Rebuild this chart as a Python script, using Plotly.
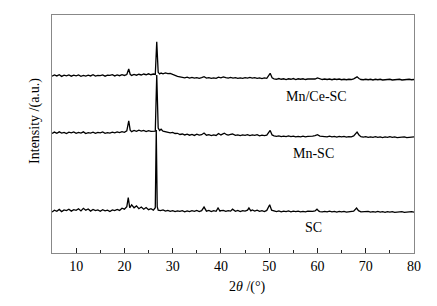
import plotly.graph_objects as go

# ---- data (2θ in degrees, intensity in arbitrary units, curves already offset) ----
sc_x = [5.0, 5.5, 6.0, 6.5, 7.0, 7.5, 8.0, 8.5, 9.0, 9.5, 10.0, 10.5, 11.0, 11.5, 12.0, 12.5, 13.0, 13.5, 14.0, 14.5,
        15.0, 15.5, 16.0, 16.5, 17.0, 17.5, 18.0, 18.5, 19.0, 19.5, 20.0, 20.5, 20.8, 21.1, 21.5, 22.0, 22.5, 23.0, 23.5, 24.0,
        24.5, 25.0, 25.5, 26.0, 26.4, 26.6, 26.8, 27.0, 27.5, 28.0, 28.5, 29.0, 29.5, 30.0, 30.5, 31.0, 31.5, 32.0, 32.5, 33.0,
        33.5, 34.0, 34.5, 35.0, 35.5, 36.0, 36.5, 37.0, 37.5, 38.0, 38.5, 39.0, 39.4, 39.8, 40.0, 40.5, 41.0, 41.5, 42.0, 42.4,
        43.0, 43.5, 44.0, 44.5, 45.0, 45.5, 45.8, 46.2, 46.5, 47.0, 47.5, 48.0, 48.5, 49.0, 49.5, 50.1, 50.5, 51.0, 51.5, 52.0,
        52.5, 53.0, 53.5, 54.0, 54.5, 55.0, 55.5, 56.0, 56.5, 57.0, 57.5, 58.0, 58.5, 59.0, 59.5, 59.9, 60.3, 60.5, 61.0, 61.5,
        62.0, 62.5, 63.0, 63.5, 64.0, 64.5, 65.0, 65.5, 66.0, 66.5, 67.0, 67.5, 68.1, 68.5, 69.0, 69.5, 70.0, 70.5, 71.0, 71.5,
        72.0, 72.5, 73.0, 73.5, 74.0, 74.5, 75.0, 75.5, 76.0, 76.5, 77.0, 77.5, 78.0, 78.5, 79.0, 79.5, 80.0]
sc_y = [17.2, 18.0, 17.5, 18.3, 17.4, 18.1, 17.8, 18.4, 17.6, 18.2, 17.9, 18.6, 17.7, 18.8, 18.0, 18.5, 17.6, 18.3, 17.8, 18.1,
        17.5, 18.2, 17.7, 18.0, 17.4, 18.1, 17.8, 18.3, 17.9, 18.8, 18.4, 19.5, 23.3, 19.0, 20.2, 19.0, 19.8, 18.6, 19.3, 18.4,
        19.1, 18.2, 18.6, 18.0, 19.0, 51.7, 19.5, 18.0, 17.8, 18.1, 17.6, 17.9, 17.5, 17.8, 17.4, 17.7, 17.5, 17.8, 17.3, 17.7,
        17.4, 17.8, 17.5, 17.9, 17.4, 17.8, 19.3, 17.6, 17.9, 17.4, 17.8, 17.5, 18.9, 17.6, 17.8, 17.9, 17.5, 17.8, 17.6, 18.4,
        17.5, 17.9, 17.4, 17.8, 17.6, 18.0, 18.9, 17.7, 18.1, 17.6, 18.0, 17.5, 17.8, 17.4, 17.9, 20.3, 18.0, 17.6, 17.4, 17.7,
        17.3, 17.6, 17.4, 17.7, 17.3, 17.6, 17.4, 17.6, 17.3, 17.5, 17.3, 17.6, 17.4, 17.5, 17.7, 18.4, 17.6, 17.4, 17.3, 17.5,
        17.3, 17.6, 17.3, 17.5, 17.2, 17.5, 17.3, 17.5, 17.2, 17.4, 17.3, 17.6, 18.9, 17.8, 17.3, 17.4, 17.2, 17.5, 17.2, 17.4,
        17.2, 17.5, 17.2, 17.4, 17.1, 17.4, 17.2, 17.4, 17.1, 17.3, 17.2, 17.4, 17.1, 17.3, 17.2, 17.4, 17.2]

mn_x = [5.0, 5.5, 6.0, 6.5, 7.0, 7.5, 8.0, 8.5, 9.0, 9.5, 10.0, 10.5, 11.0, 11.5, 12.0, 12.5, 13.0, 13.5, 14.0, 14.5,
        15.0, 15.5, 16.0, 16.5, 17.0, 17.5, 18.0, 18.5, 19.0, 19.5, 20.0, 20.5, 20.9, 21.2, 21.5, 22.0, 22.5, 23.0, 23.5, 24.0,
        24.5, 25.0, 25.5, 26.0, 26.4, 26.7, 27.0, 27.3, 27.6, 28.0, 28.5, 29.0, 29.5, 30.0, 30.5, 31.0, 31.5, 32.0, 32.5, 33.0,
        33.5, 34.0, 34.5, 35.0, 35.5, 36.0, 36.5, 37.0, 37.5, 38.0, 38.5, 39.0, 39.5, 40.0, 40.7, 41.2, 41.5, 42.0, 42.4, 43.0,
        43.5, 44.0, 44.5, 45.0, 45.5, 46.0, 46.5, 47.0, 47.5, 48.0, 48.5, 49.0, 49.5, 50.2, 50.6, 51.0, 51.5, 52.0, 52.5, 53.0,
        53.5, 54.0, 54.5, 55.0, 55.5, 56.0, 56.5, 57.0, 57.5, 58.0, 58.5, 59.0, 59.5, 60.0, 60.5, 61.0, 61.5, 62.0, 62.5, 63.0,
        63.5, 64.0, 64.5, 65.0, 65.5, 66.0, 66.5, 67.0, 67.5, 68.2, 68.6, 69.0, 69.5, 70.0, 70.5, 71.0, 71.5, 72.0, 72.5, 73.0,
        73.5, 74.0, 74.5, 75.0, 75.5, 76.0, 76.5, 77.0, 77.5, 78.0, 78.5, 79.0, 79.5, 80.0]
mn_y = [50.2, 50.8, 50.3, 50.9, 50.4, 50.7, 50.2, 50.8, 50.5, 50.9, 50.3, 50.7, 50.4, 50.9, 50.2, 50.6, 50.4, 50.8, 50.3, 50.7,
        50.5, 50.9, 50.3, 50.6, 50.4, 50.8, 50.5, 50.9, 50.6, 51.0, 50.7, 51.3, 55.5, 51.6, 51.0, 51.5, 51.1, 51.6, 51.2, 51.5,
        51.0, 51.4, 51.1, 51.3, 51.2, 74.8, 52.5, 51.5, 52.0, 51.2, 51.0, 50.8, 50.5, 50.7, 50.2, 50.3, 49.8, 50.0, 49.6, 49.9,
        49.5, 49.8, 49.4, 49.9, 49.5, 49.7, 50.4, 49.5, 49.7, 49.3, 49.6, 49.4, 50.2, 49.6, 50.3, 49.7, 49.5, 49.8, 50.0, 49.4,
        49.6, 49.3, 49.6, 49.4, 49.7, 49.3, 49.6, 49.4, 49.7, 49.2, 49.5, 49.3, 49.5, 51.5, 49.6, 49.2, 49.0, 49.2, 48.9, 49.1,
        48.9, 49.2, 48.9, 49.1, 48.8, 49.0, 48.8, 49.1, 48.8, 49.0, 48.9, 49.1, 49.3, 49.7, 49.1, 48.9, 49.0, 48.8, 49.1, 48.8,
        49.0, 48.7, 49.0, 48.8, 49.0, 48.7, 48.9, 48.8, 49.2, 50.8, 49.6, 48.9, 48.7, 48.9, 48.6, 48.8, 48.6, 48.9, 48.6, 48.8,
        48.5, 48.8, 48.6, 48.9, 48.6, 48.8, 48.5, 48.7, 48.6, 48.8, 48.5, 48.7, 48.6, 48.8]

mnce_x = [5.0, 5.5, 6.0, 6.5, 7.0, 7.5, 8.0, 8.5, 9.0, 9.5, 10.0, 10.5, 11.0, 11.5, 12.0, 12.5, 13.0, 13.5, 14.0, 14.5,
          15.0, 15.5, 16.0, 16.5, 17.0, 17.5, 18.0, 18.5, 19.0, 19.5, 20.0, 20.5, 20.9, 21.2, 21.5, 22.0, 22.5, 23.0, 23.5, 24.0,
          24.5, 25.0, 25.5, 26.0, 26.4, 26.7, 27.0, 27.3, 27.6, 28.0, 28.5, 29.0, 29.5, 30.0, 30.5, 31.0, 31.5, 32.0, 32.5, 33.0,
          33.5, 34.0, 34.5, 35.0, 35.5, 36.0, 36.5, 37.0, 37.5, 38.0, 38.5, 39.0, 39.5, 40.0, 40.5, 41.0, 41.5, 42.0, 42.5, 43.0,
          43.5, 44.0, 44.5, 45.0, 45.5, 46.0, 46.5, 47.0, 47.5, 48.0, 48.5, 49.0, 49.5, 50.2, 50.6, 51.0, 51.5, 52.0, 52.5, 53.0,
          53.5, 54.0, 54.5, 55.0, 55.5, 56.0, 56.5, 57.0, 57.5, 58.0, 58.5, 59.0, 59.5, 60.0, 60.5, 61.0, 61.5, 62.0, 62.5, 63.0,
          63.5, 64.0, 64.5, 65.0, 65.5, 66.0, 66.5, 67.0, 67.5, 68.2, 68.6, 69.0, 69.5, 70.0, 70.5, 71.0, 71.5, 72.0, 72.5, 73.0,
          73.5, 74.0, 74.5, 75.0, 75.5, 76.0, 76.5, 77.0, 77.5, 78.0, 78.5, 79.0, 79.5, 80.0]
mnce_y = [74.3, 74.8, 74.4, 74.9, 74.2, 74.7, 74.4, 74.8, 74.3, 74.7, 74.4, 74.8, 74.2, 74.6, 74.3, 74.7, 74.4, 74.9, 74.3, 74.6,
          74.5, 74.8, 74.3, 74.7, 74.6, 74.9, 74.4, 74.8, 74.5, 74.9, 74.6, 75.0, 77.3, 75.1, 74.6, 75.0, 74.7, 75.1, 74.8, 75.2,
          74.9, 75.3, 74.9, 75.2, 75.0, 88.7, 75.9, 75.2, 75.6, 75.3, 75.7, 75.4, 75.5, 75.0, 74.6, 74.2, 74.0, 73.8, 73.6, 73.9,
          73.5, 73.8, 73.5, 73.7, 73.4, 73.7, 74.1, 73.5, 73.7, 73.4, 73.6, 73.4, 73.9, 73.6, 74.0, 73.7, 73.5, 73.8, 73.5, 73.7,
          73.4, 73.6, 73.4, 73.7, 73.5, 73.8, 73.5, 73.7, 73.4, 73.6, 73.3, 73.6, 73.4, 75.5, 73.6, 73.2, 73.0, 73.3, 73.0, 73.2,
          72.9, 73.2, 73.0, 73.3, 72.9, 73.2, 73.0, 73.2, 72.9, 73.1, 73.0, 73.2, 73.1, 73.6, 73.1, 72.9, 73.1, 72.9, 73.1, 72.8,
          73.1, 72.9, 73.1, 72.8, 73.0, 72.8, 73.0, 72.9, 73.2, 74.0, 73.3, 72.9, 72.8, 73.0, 72.8, 73.0, 72.7, 73.0, 72.8, 73.0,
          72.7, 72.9, 72.8, 73.0, 72.7, 72.9, 72.8, 73.0, 72.7, 72.9, 72.8, 73.0, 72.8, 72.9]

series_names = ["SC", "Mn-SC", "Mn/Ce-SC"]
label_x = [59.1, 59.1, 59.9]
label_y = [10.6, 41.7, 65.6]
x_ticks = [10, 20, 30, 40, 50, 60, 70, 80]

FONT = "Liberation Serif"

fig = go.Figure()
for name, xs, ys in zip(series_names, [sc_x, mn_x, mnce_x], [sc_y, mn_y, mnce_y]):
    fig.add_trace(go.Scatter(x=xs, y=ys, mode="lines", name=name,
                             line=dict(color="black", width=1.3), showlegend=False))

for name, lx, ly in zip(series_names, label_x, label_y):
    fig.add_annotation(x=lx, y=ly, xref="x", yref="y", text=name, showarrow=False,
                       font=dict(family=FONT, size=14, color="black"))

fig.add_annotation(x=45.5, y=-0.1, xref="x", yref="paper", yanchor="top",
                   text="2<i>θ</i> /(°)", showarrow=False,
                   font=dict(family=FONT, size=14, color="black"))

fig.add_annotation(x=-0.047, y=0.555, xref="paper", yref="paper", textangle=-90,
                   xanchor="center", yanchor="middle",
                   text="Intensity /(a.u.)", showarrow=False,
                   font=dict(family=FONT, size=14, color="black"))

fig.update_layout(
    width=437, height=306,
    margin=dict(l=52, r=23, t=15, b=53),
    paper_bgcolor="white", plot_bgcolor="white",
    font=dict(family=FONT, size=14, color="black"),
)
fig.update_xaxes(range=[5, 80], tickvals=x_ticks, ticks="inside", ticklen=5, tickwidth=1,
                 tickcolor="#222222", showline=True, linecolor="#888888", linewidth=1, mirror=True,
                 showgrid=False, zeroline=False,
                 minor=dict(tickvals=[15, 25, 35, 45, 55, 65, 75], ticks="inside", ticklen=3,
                            tickcolor="#222222", showgrid=False),
                 tickfont=dict(family=FONT, size=14, color="black"))
fig.update_yaxes(range=[0, 100], showticklabels=False, ticks="", showline=True, linecolor="#888888",
                 linewidth=1, mirror=True, showgrid=False, zeroline=False)

fig.write_html("out.html", config={"displayModeBar": False},
               post_script="document.body.style.margin='0';")
